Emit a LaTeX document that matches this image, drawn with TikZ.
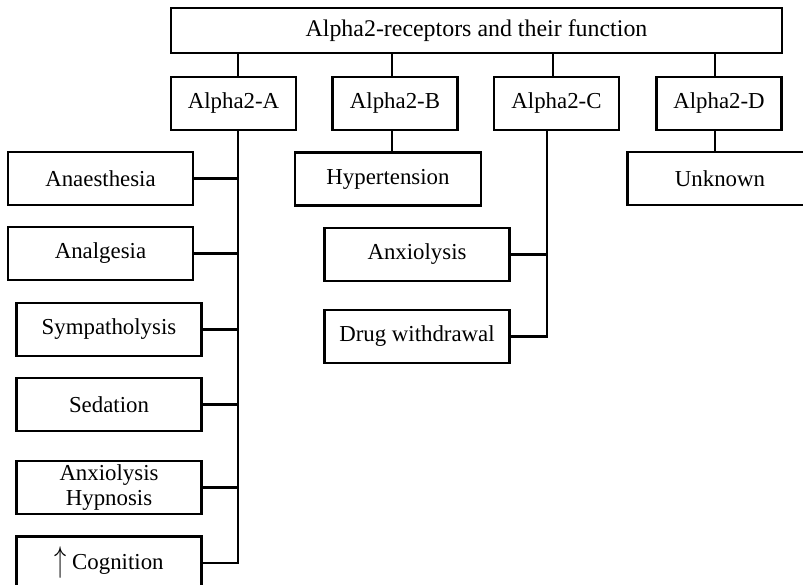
\documentclass[tikz,border=0pt]{standalone}
\usepackage{fontspec}
\setmainfont{Liberation Serif}
\usetikzlibrary{calc}

\begin{document}
\begin{tikzpicture}[x=0.02cm, y=-0.02cm,
  funcbox/.style={draw, line width=1.4pt, minimum width=3.7cm, minimum height=1.06cm,
    inner sep=1pt, align=center, font=\fontsize{13}{14}\selectfont},
  subbox/.style={funcbox, minimum width=2.5cm},
  conn/.style={line width=1.4pt}]

\useasboundingbox (0,0) rectangle (803,584);

% --- Title and the four subtypes ---
\node[funcbox, minimum width=12.22cm, minimum height=0.9cm,
  font=\fontsize{13.6}{15}\selectfont] (title) at (476.5,30.5) {Alpha2-receptors and their function};
\node[subbox] (alphaA) at (233.5,103.5) {Alpha2-A};
\node[subbox] (alphaB) at (395,103.5) {Alpha2-B};
\node[subbox] (alphaC) at (556.5,103.5) {Alpha2-C};
\node[subbox] (alphaD) at (719,103.5) {Alpha2-D};

% --- Functions of Alpha2-A ---
\node[funcbox] (anaes) at (100.5,178.5) {Anaesthesia};
\node[funcbox] (analg) at (100.5,253.5) {Analgesia};
\node[funcbox] (sympa) at (109,329.5) {Sympatholysis};
\node[funcbox] (sedat) at (109,404.5) {Sedation};
\node[funcbox] (hypno) at (109,487.5) {Anxiolysis\\Hypnosis};
\node[funcbox] (cogn) at (109,563) {\raisebox{-0.25ex}{\scalebox{1.15}[1.7]{$\uparrow$}} Cognition};

% --- Functions of B, C, D ---
\node[funcbox, minimum width=3.72cm] (hyper) at (388,179) {Hypertension};
\node[funcbox] (unknown) at (720,178.5) {Unknown};
\node[funcbox] (anxio) at (417,254.5) {Anxiolysis};
\node[funcbox] (drug) at (417,336.5) {Drug withdrawal};

% junction lines
\coordinate (jA) at (238,0);
\coordinate (jB) at (392,0);
\coordinate (jC) at (553,0);
\coordinate (jCc) at (547,0);
\coordinate (jD) at (715,0);

\foreach \j/\n in {jA/alphaA, jB/alphaB, jC/alphaC, jD/alphaD}
  \draw[conn] (title.south -| \j) -- (\n.north -| \j);

\draw[conn] (alphaA.south -| jA) -- (cogn.east -| jA) -- (cogn.east);
\foreach \n in {anaes, analg, sympa, sedat, hypno}
  \draw[conn] (\n.east) -- (\n.east -| jA);

\draw[conn] (alphaB.south -| jB) -- (hyper.north -| jB);
\draw[conn] (alphaD.south -| jD) -- (unknown.north -| jD);

\draw[conn] (alphaC.south -| jCc) -- (drug.east -| jCc) -- (drug.east);
\draw[conn] (anxio.east) -- (anxio.east -| jCc);

\end{tikzpicture}
\end{document}
